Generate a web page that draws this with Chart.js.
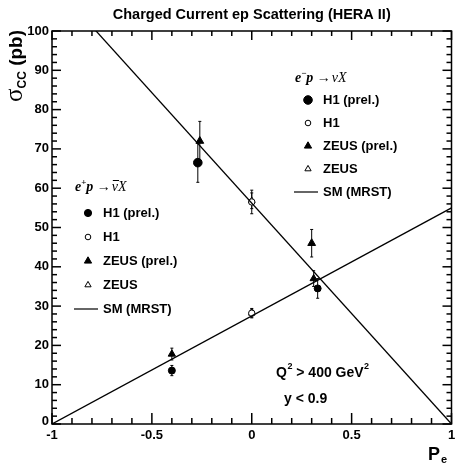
<!DOCTYPE html>
<html>
<head>
<meta charset="utf-8">
<script src="https://cdn.jsdelivr.net/npm/chart.js"></script>
<style>
    html, body { margin: 0; padding: 0; background: #fff; }
</style>
</head>
<body>
<canvas id="ccChart" width="457" height="464"></canvas>
<script>
    // Standard Model (MRST) prediction, cross section vs polarisation
    const smPol = [-1, 1];
    const smElectron = [112.4, 0];
    const smPositron = [0, 55];

    // e-p data
    const emH1PrelPol = [-0.27];
    const emH1PrelXs = [66.5];
    const emH1PrelErr = [5];
    const emH1Pol = [0];
    const emH1Xs = [56.5];
    const emH1Err = [3];
    const emZeusPrelPol = [-0.26, 0.30];
    const emZeusPrelXs = [72, 46];
    const emZeusPrelErr = [5, 3.5];
    const emZeusPol = [0];
    const emZeusXs = [56.8];
    const emZeusErr = [2];

    // e+p data
    const epH1PrelPol = [-0.40, 0.33];
    const epH1PrelXs = [13.6, 34.5];
    const epH1PrelErr = [1.3, 2.5];
    const epH1Pol = [0];
    const epH1Xs = [28.2];
    const epH1Err = [1];
    const epZeusPrelPol = [-0.40, 0.31];
    const epZeusPrelXs = [17.8, 37];
    const epZeusPrelErr = [1.5, 2];
    const epZeusPol = [0];
    const epZeusXs = [28.2];
    const epZeusErr = [1.2];

    // axis ticks
    const xMajor = [-1, -0.5, 0, 0.5, 1];
    const xLabels = ['-1', '-0.5', '0', '0.5', '1'];
    const xMinorStep = 0.1;
    const yMajor = [0, 10, 20, 30, 40, 50, 60, 70, 80, 90, 100];
    const yMinorStep = 2;

    const SANS = '"Liberation Sans", Arial, Helvetica, sans-serif';
    const SERIF = '"Liberation Serif", "Times New Roman", serif';

    function pts(xs, ys) {
        return xs.map((x, i) => ({ x: x, y: ys[i] }));
    }

    function marker(label, xs, ys, errs, style, filled, r) {
        return {
            label: label,
            data: pts(xs, ys),
            err: errs,
            pointStyle: style,
            pointRadius: r,
            backgroundColor: filled ? '#000' : '#fff',
            borderColor: '#000',
            borderWidth: 1,
            showLine: false
        };
    }

    function smLine(ys) {
        return {
            label: 'SM (MRST)',
            data: pts(smPol, ys),
            showLine: true,
            pointRadius: 0,
            borderColor: '#000',
            borderWidth: 1.3,
            fill: false
        };
    }

    function drawMarker(ctx, style, filled, x, y, r) {
        ctx.save();
        ctx.beginPath();
        if (style === 'triangle') {
            ctx.moveTo(x, y - r);
            ctx.lineTo(x + r * 0.866, y + r * 0.5);
            ctx.lineTo(x - r * 0.866, y + r * 0.5);
            ctx.closePath();
        } else {
            ctx.arc(x, y, r, 0, Math.PI * 2);
        }
        ctx.fillStyle = filled ? '#000' : '#fff';
        ctx.strokeStyle = '#000';
        ctx.lineWidth = 1;
        ctx.fill();
        ctx.stroke();
        ctx.restore();
    }

    function drawReaction(ctx, x, y, sign, bar) {
        ctx.save();
        ctx.fillStyle = '#000';
        ctx.textBaseline = 'alphabetic';
        ctx.textAlign = 'left';
        ctx.font = 'italic bold 14px ' + SERIF;
        ctx.fillText('e', x, y);
        x += ctx.measureText('e').width;
        ctx.font = 'bold 9px ' + SERIF;
        ctx.fillText(sign, x, y - 6);
        x += ctx.measureText(sign).width;
        ctx.font = 'italic bold 14px ' + SERIF;
        ctx.fillText('p', x, y);
        x += ctx.measureText('p ').width;
        ctx.font = '14px ' + SERIF;
        ctx.fillText('\u2192', x, y);
        x += ctx.measureText('\u2192').width + 1;
        ctx.font = 'italic 14px ' + SERIF;
        const nw = ctx.measureText('\u03BD').width;
        ctx.fillText('\u03BD', x, y);
        if (bar) {
            ctx.beginPath();
            ctx.moveTo(x + 1, y - 10.5);
            ctx.lineTo(x + nw + 1, y - 10.5);
            ctx.lineWidth = 1;
            ctx.strokeStyle = '#000';
            ctx.stroke();
        }
        x += nw;
        ctx.fillText('X', x, y);
        ctx.restore();
    }

    function drawLegend(ctx, x0, y0, step, big) {
        const rows = [
            ['circle', true, 'H1 (prel.)'],
            ['circle', false, 'H1'],
            ['triangle', true, 'ZEUS (prel.)'],
            ['triangle', false, 'ZEUS'],
            ['line', false, 'SM (MRST)']
        ];
        ctx.save();
        ctx.font = 'bold 13px ' + SANS;
        ctx.textBaseline = 'middle';
        ctx.fillStyle = '#000';
        rows.forEach((row, i) => {
            const y = y0 + i * step;
            if (row[0] === 'line') {
                ctx.beginPath();
                ctx.moveTo(x0 - 14, y);
                ctx.lineTo(x0 + 10, y);
                ctx.lineWidth = 1.2;
                ctx.strokeStyle = '#000';
                ctx.stroke();
            } else {
                const r = row[0] === 'circle' ? (row[1] ? big : 2.8) : (row[1] ? 4.2 : 3.6);
                drawMarker(ctx, row[0], row[1], x0, y, r);
            }
            ctx.fillText(row[2], x0 + 15, y + 0.5);
        });
        ctx.restore();
    }

    function tick(ctx, x1, y1, x2, y2) {
        ctx.beginPath();
        ctx.moveTo(x1, y1);
        ctx.lineTo(x2, y2);
        ctx.stroke();
    }

    const decorations = {
        id: 'decorations',
        beforeDatasetsDraw(chart) {
            // vertical error bars under the markers
            const ctx = chart.ctx;
            const xs = chart.scales.x, ys = chart.scales.y;
            ctx.save();
            ctx.strokeStyle = '#000';
            ctx.lineWidth = 1;
            chart.data.datasets.forEach(ds => {
                if (!ds.err) return;
                ds.data.forEach((p, i) => {
                    const px = xs.getPixelForValue(p.x);
                    const top = ys.getPixelForValue(p.y + ds.err[i]);
                    const bot = ys.getPixelForValue(p.y - ds.err[i]);
                    ctx.beginPath();
                    ctx.moveTo(px, top);
                    ctx.lineTo(px, bot);
                    ctx.moveTo(px - 1.5, top);
                    ctx.lineTo(px + 1.5, top);
                    ctx.moveTo(px - 1.5, bot);
                    ctx.lineTo(px + 1.5, bot);
                    ctx.stroke();
                });
            });
            ctx.restore();
        },
        afterDraw(chart) {
            const ctx = chart.ctx;
            const a = chart.chartArea;
            const xs = chart.scales.x, ys = chart.scales.y;
            ctx.save();
            ctx.setLineDash([]);
            ctx.strokeStyle = '#000';
            ctx.fillStyle = '#000';

            // frame
            ctx.lineWidth = 1.5;
            ctx.strokeRect(a.left, a.top, a.right - a.left, a.bottom - a.top);

            // x ticks, bottom and top, pointing inward
            ctx.lineWidth = 1.5;
            const nx = Math.round((xs.max - xs.min) / xMinorStep);
            for (let k = 0; k <= nx; k++) {
                const v = xs.min + k * xMinorStep;
                const px = xs.getPixelForValue(v);
                const major = k % 5 === 0;
                tick(ctx, px, a.bottom, px, a.bottom - (major ? 11 : 6));
                tick(ctx, px, a.top, px, a.top + (major ? 9 : 5));
            }
            // y ticks, left and right
            const ny = Math.round((ys.max - ys.min) / yMinorStep);
            for (let k = 0; k <= ny; k++) {
                const v = ys.min + k * yMinorStep;
                const py = ys.getPixelForValue(v);
                const len = k % 5 === 0 ? 9 : 5;
                tick(ctx, a.left, py, a.left + len, py);
                tick(ctx, a.right, py, a.right - len, py);
            }

            // tick labels
            ctx.font = 'bold 13px ' + SANS;
            ctx.textAlign = 'center';
            ctx.textBaseline = 'top';
            xMajor.forEach((v, i) => {
                ctx.fillText(xLabels[i], xs.getPixelForValue(v), a.bottom + 5);
            });
            ctx.textAlign = 'right';
            ctx.textBaseline = 'middle';
            yMajor.forEach(v => {
                const off = v === 0 ? -3 : 0;
                ctx.fillText(String(v), a.left - 3, ys.getPixelForValue(v) + off);
            });

            // title
            ctx.font = 'bold 14.5px ' + SANS;
            ctx.textAlign = 'center';
            ctx.textBaseline = 'alphabetic';
            ctx.fillText('Charged Current ep Scattering (HERA II)', (a.left + a.right) / 2, 19);

            // y axis title
            ctx.save();
            ctx.translate(22, 30);
            ctx.rotate(-Math.PI / 2);
            ctx.textAlign = 'right';
            ctx.font = 'bold 19px ' + SANS;
            const pb = ' (pb)';
            const pbw = ctx.measureText(pb).width;
            ctx.fillText(pb, 0, 0);
            ctx.font = 'bold 12px ' + SANS;
            const ccw = ctx.measureText('CC').width;
            ctx.fillText('CC', -pbw, 4);
            ctx.font = '25px ' + SERIF;
            ctx.fillText('\u03C3', -pbw - ccw, 0);
            ctx.restore();

            // x axis title
            ctx.textAlign = 'left';
            ctx.font = 'bold 18px ' + SANS;
            ctx.fillText('P', 428, 460);
            ctx.font = 'bold 11px ' + SANS;
            ctx.fillText('e', 441, 463);

            // cuts
            ctx.font = 'bold 14px ' + SANS;
            let x = 276;
            ctx.fillText('Q', x, 377);
            x += ctx.measureText('Q').width;
            ctx.font = 'bold 9px ' + SANS;
            ctx.fillText('2', x + 0.5, 369);
            x += ctx.measureText('2').width + 0.5;
            ctx.font = 'bold 14px ' + SANS;
            ctx.fillText(' > 400 GeV', x, 377);
            x += ctx.measureText(' > 400 GeV').width;
            ctx.font = 'bold 9px ' + SANS;
            ctx.fillText('2', x + 0.5, 369);
            ctx.font = 'bold 14px ' + SANS;
            ctx.fillText('y < 0.9', 284, 403);
            ctx.restore();

            // legends
            drawReaction(ctx, 295, 82, '\u2212', false);
            drawLegend(ctx, 308, 100, 23, 4.3);
            drawReaction(ctx, 75, 191, '+', true);
            drawLegend(ctx, 88, 213, 24, 3.6);
        }
    };

    new Chart(document.getElementById('ccChart'), {
        type: 'scatter',
        data: {
            datasets: [
                smLine(smElectron),
                smLine(smPositron),
                marker('e-p H1 (prel.)', emH1PrelPol, emH1PrelXs, emH1PrelErr, 'circle', true, 4.3),
                marker('e-p H1', emH1Pol, emH1Xs, emH1Err, 'circle', false, 3.2),
                marker('e-p ZEUS (prel.)', emZeusPrelPol, emZeusPrelXs, emZeusPrelErr, 'triangle', true, 4.5),
                marker('e-p ZEUS', emZeusPol, emZeusXs, emZeusErr, 'triangle', false, 3.8),
                marker('e+p H1 (prel.)', epH1PrelPol, epH1PrelXs, epH1PrelErr, 'circle', true, 3.5),
                marker('e+p H1', epH1Pol, epH1Xs, epH1Err, 'circle', false, 3.2),
                marker('e+p ZEUS (prel.)', epZeusPrelPol, epZeusPrelXs, epZeusPrelErr, 'triangle', true, 4.2),
                marker('e+p ZEUS', epZeusPol, epZeusXs, epZeusErr, 'triangle', false, 3.8)
            ]
        },
        options: {
            responsive: false,
            animation: false,
            devicePixelRatio: 1,
            layout: {
                padding: { left: 52, right: 0, top: 31, bottom: 40 }
            },
            plugins: {
                legend: { display: false },
                tooltip: { enabled: false }
            },
            scales: {
                x: { type: 'linear', min: -1, max: 1, display: false },
                y: { type: 'linear', min: 0, max: 100, display: false }
            }
        },
        plugins: [decorations]
    });
</script>
</body>
</html>
